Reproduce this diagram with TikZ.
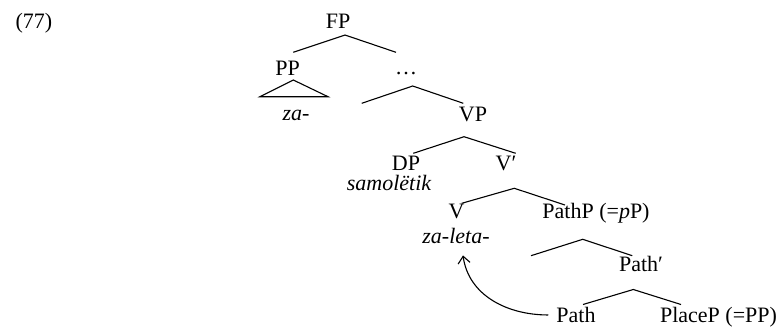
\documentclass[tikz,border=0pt]{standalone}
\usepackage{fontspec}
\setmainfont{Liberation Serif}
\usetikzlibrary{arrows.meta}
\begin{document}
\begin{tikzpicture}[x=1pt,y=-1pt,
  lbl/.style={anchor=base,inner sep=0pt,font=\fontsize{22}{26}\selectfont},
  branch/.style={line width=1.1pt},
  move/.style={line width=1.1pt,-{Straight Barb[length=7pt,width=12pt,line width=1.1pt]}}]
\useasboundingbox (0,0) rectangle (779,327);

% example number
\node[lbl] (num) at (34,28) {(77)};

% labels
\node[lbl] (fp)     at (338,28)  {FP};
\node[lbl] (pp)     at (287.5,75) {PP};
\node[lbl] (za)     at (296,120) {\itshape za-};
\node[lbl] (dots)   at (406,74)  {\dots};
\node[lbl] (vp)     at (473,121.7) {VP};
\node[lbl] (dp)     at (406,170) {DP};
\node[lbl] (vbar)   at (506,170) {V′};
\node[lbl] (samo)   at (389,190) {\itshape samolëtik};
\node[lbl] (v)      at (456.5,218) {V};
\node[lbl] (pathp)  at (596,218) {PathP (=\textit{p}P)};
\node[lbl] (zaleta) at (456,243) {\itshape za-leta-};
\node[lbl] (pathbar) at (641,271.7) {Path′};
\node[lbl] (path)   at (576,322.5) {Path};
\node[lbl] (placep) at (718.5,322.5) {PlaceP (=PP)};

% branch points
\coordinate (fp-t) at (345,35);   \coordinate (fp-l) at (293.3,52.3); \coordinate (fp-r) at (396,52.3);
\coordinate (tri-t) at (293.3,80); \coordinate (tri-l) at (260,96.7); \coordinate (tri-r) at (328,96.7);
\coordinate (x-t) at (412.7,86);  \coordinate (x-l) at (361.7,103.3); \coordinate (x-r) at (463.3,103.3);
\coordinate (vp-t) at (464,136.7); \coordinate (vp-l) at (413.3,153.3); \coordinate (vp-r) at (515.7,153.3);
\coordinate (vb-t) at (514.3,188.3); \coordinate (vb-l) at (461.7,203.3); \coordinate (vb-r) at (565,205);
\coordinate (pp-t) at (582.7,239.3); \coordinate (pp-l) at (531,255.7); \coordinate (pp-r) at (632.3,255.7);
\coordinate (pb-t) at (633.3,289.5); \coordinate (pb-l) at (583,304.5); \coordinate (pb-r) at (681,304.5);

% tree branches
\draw[branch] (fp-l) -- (fp-t) -- (fp-r);
\draw[branch] (tri-t) -- (tri-l) -- (tri-r) -- cycle;
\draw[branch] (x-l) -- (x-t) -- (x-r);
\draw[branch] (vp-l) -- (vp-t) -- (vp-r);
\draw[branch] (vb-l) -- (vb-t) -- (vb-r);
\draw[branch] (pp-l) -- (pp-t) -- (pp-r);
\draw[branch] (pb-l) -- (pb-t) -- (pb-r);

% head movement of Path into V
\draw[move] ([xshift=-8pt]path.west) to[out=180,in=-82] ([xshift=7pt,yshift=-12pt]zaleta.south);
\end{tikzpicture}
\end{document}
